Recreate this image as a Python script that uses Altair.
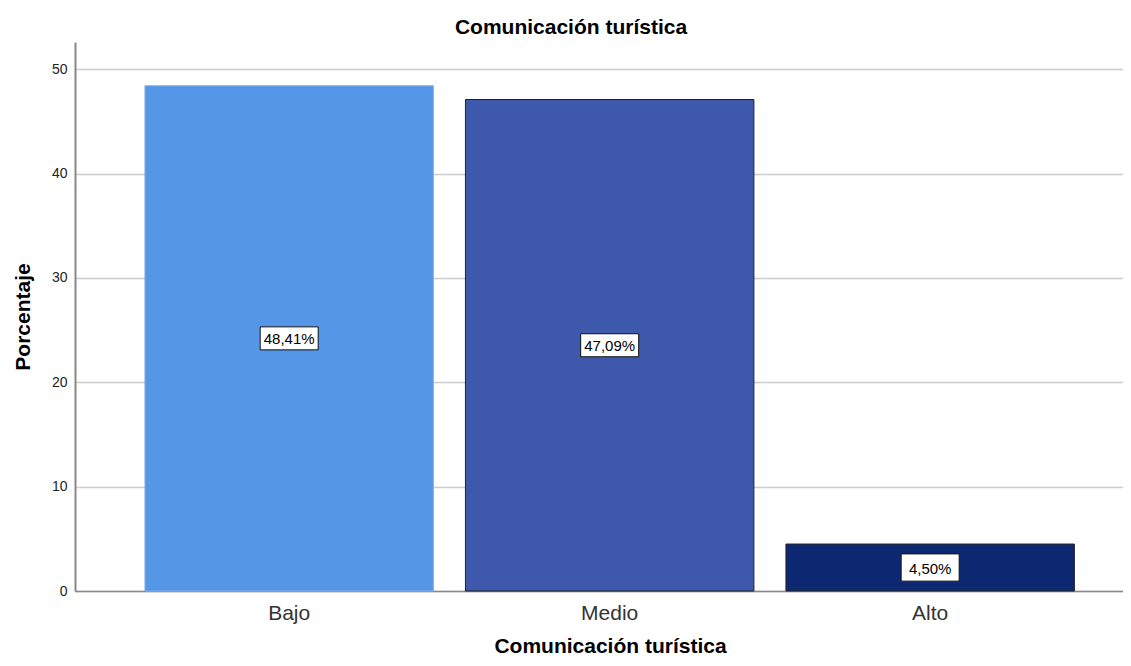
import altair as alt
import pandas as pd

categories = ["Bajo", "Medio", "Alto"]
percentages = [48.41, 47.09, 4.50]
labels = ["48,41%", "47,09%", "4,50%"]

bar_colors = ["#5596E6", "#3E58AC", "#0B2870"]
stroke_colors = ["#7FB0EC", "#222222", "#222222"]
box_w = [58, 58, 49]
box_h = 23

df = pd.DataFrame({"cat": categories, "pct": percentages, "label": labels})
df["half"] = df["pct"] / 2

FONT = "Liberation Sans"

x_enc = alt.X(
    "cat:N",
    sort=categories,
    title="Comunicación turística",
    scale=alt.Scale(paddingInner=0.1, paddingOuter=0.185, align=0.59),
    axis=alt.Axis(
        labelAngle=0, labelFontSize=21, labelColor="#333333", labelFont=FONT,
        labelPadding=11, ticks=False, domainColor="#888888", domainWidth=1.5,
        titleFont=FONT, titleFontSize=21, titleFontWeight="bold", titleColor="#000000",
        titlePadding=12, titleX=535,
    ),
)

y_scale = alt.Scale(domain=[0, 52.6], nice=False, zero=True)

bars = alt.Chart(df).mark_bar(strokeWidth=1).encode(
    x=x_enc,
    y=alt.Y(
        "pct:Q",
        scale=y_scale,
        title="Porcentaje",
        axis=alt.Axis(
            values=[0, 10, 20, 30, 40, 50], ticks=False, labelFontSize=14,
            labelFont=FONT, labelColor="#222222", labelPadding=8,
            domainColor="#888888", domainWidth=2, gridColor="#cccccc", gridWidth=1.5,
            titleFont=FONT, titleFontSize=21, titleFontWeight="bold", titleColor="#000000",
            titlePadding=18,
        ),
    ),
    color=alt.Color("cat:N", scale=alt.Scale(domain=categories, range=bar_colors), legend=None),
    stroke=alt.Stroke("cat:N", scale=alt.Scale(domain=categories, range=stroke_colors), legend=None),
)

shapes = [
    "M-1,-{r:.4f}H1V{r:.4f}H-1Z".format(r=box_h / w) for w in box_w
]
sizes = [w * w for w in box_w]

boxes = alt.Chart(df).mark_point(filled=True, fill="white", stroke="#111111", strokeWidth=1, opacity=1).encode(
    x=alt.X("cat:N", sort=categories),
    y=alt.Y("half:Q", scale=y_scale),
    shape=alt.Shape("cat:N", scale=alt.Scale(domain=categories, range=shapes), legend=None),
    size=alt.Size("cat:N", scale=alt.Scale(domain=categories, range=sizes), legend=None),
)

texts = alt.Chart(df).mark_text(font=FONT, fontSize=15, color="#000000", baseline="middle", dy=1).encode(
    x=alt.X("cat:N", sort=categories),
    y=alt.Y("half:Q", scale=y_scale),
    text="label:N",
)

chart = (bars + boxes + texts).properties(
    width=1048,
    height=549,
    title=alt.TitleParams(
        "Comunicación turística", font=FONT, fontSize=21, fontWeight="bold",
        color="#000000", offset=4, dx=-28,
    ),
    autosize=alt.AutoSizeParams(type="none"),
    padding={"left": 67, "top": 34, "right": 0, "bottom": 66},
).configure_view(stroke=None).configure_axisX(grid=False)

chart.save("out.html", embed_options={"renderer": "svg", "actions": False})
